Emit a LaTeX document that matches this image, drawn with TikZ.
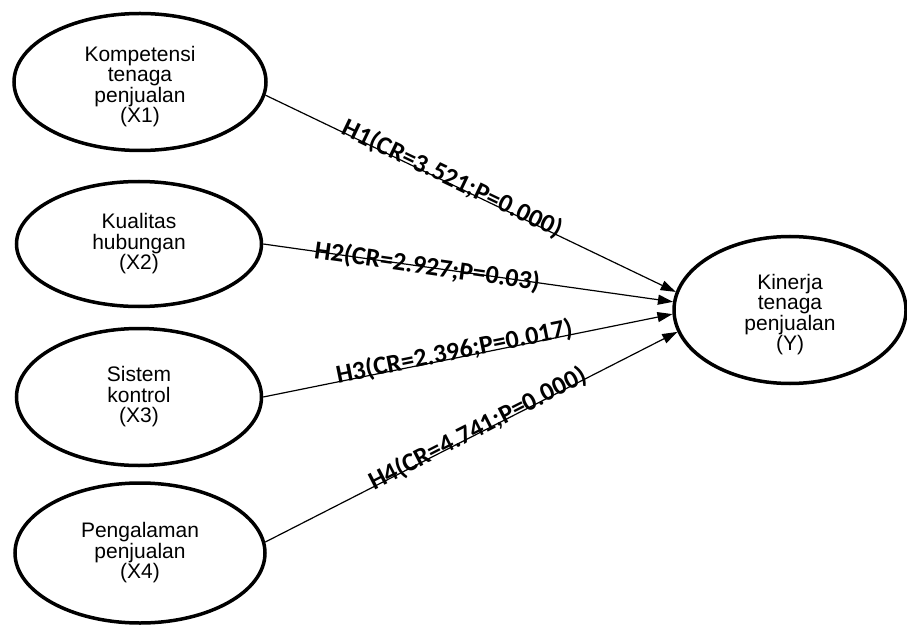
\documentclass[tikz,border=0pt]{standalone}
\usepackage{fontspec}
\setmainfont{Liberation Sans}
\newfontfamily\labfont{Carlito}
\usetikzlibrary{shapes.geometric,arrows.meta}
\begin{document}
\begin{tikzpicture}[x=1pt,y=-1pt,
  construct/.style={ellipse, draw, line width=3.5pt, inner sep=0pt, align=center,
    font=\fontsize{21}{20.5}\selectfont},
  link/.style={line width=1.2pt, -{Triangle[length=15pt,width=10pt]}},
  coef/.style={font=\labfont\bfseries\fontsize{26}{26}\selectfont, sloped, inner sep=0pt}]
\useasboundingbox (0,0) rectangle (907,628);

% exogenous constructs
\node[construct, minimum width=252pt, minimum height=137pt] (x1) at (140,82)
  {\rule{0pt}{24pt}Kompetensi\\tenaga\\penjualan\\(X1)};
\node[construct, minimum width=245pt, minimum height=125pt] (x2) at (139,244)
  {Kualitas\\hubungan\\(X2)};
\node[construct, minimum width=245pt, minimum height=137pt] (x3) at (139,397)
  {Sistem\\kontrol\\(X3)};
\node[construct, minimum width=250pt, minimum height=140pt] (x4) at (140,553)
  {Pengalaman\\penjualan\\(X4)};

% endogenous construct
\node[construct, minimum width=232pt, minimum height=147pt] (y) at (790,310)
  {\rule{0pt}{24pt}Kinerja\\tenaga\\penjualan\\(Y)};

% structural paths with test results
\draw[link] (x1.-6) -- (y.171)
  node[coef, pos=0.45, above=-7pt] {H1(CR=3.521;P=0.000)};
\draw[link] (x2.-0.5) -- (y.176)
  node[coef, pos=0.40, above=-12pt] {H2(CR=2.927;P=0.03)};
\draw[link] (x3.0) -- (y.182.5)
  node[coef, pos=0.47, above=-6pt] {H3(CR=2.396;P=0.017)};
\draw[link] (x4.5.5) -- (y.191)
  node[coef, pos=0.52, above=-8pt] {H4(CR=4.741;P=0.000)};
\end{tikzpicture}
\end{document}
